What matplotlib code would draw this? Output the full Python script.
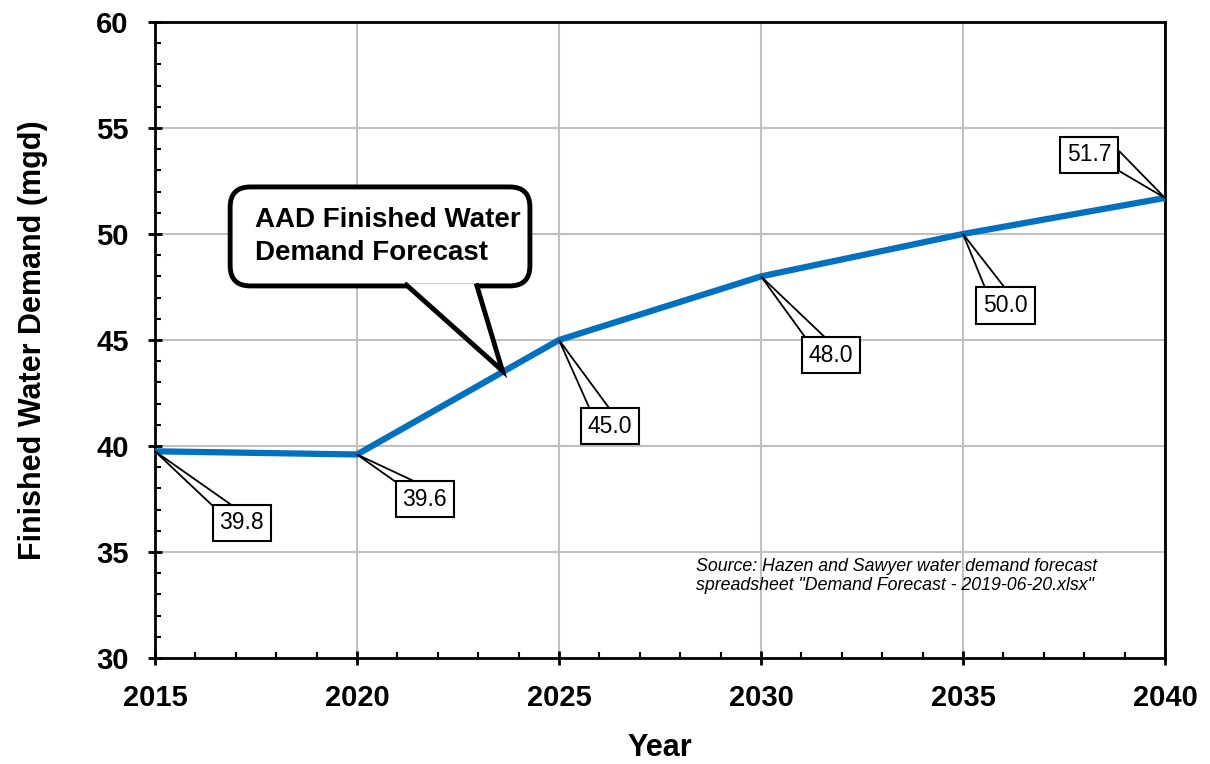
import numpy as np
import matplotlib.pyplot as plt
from matplotlib.patches import Polygon, PathPatch, FancyBboxPatch
from matplotlib.path import Path
from matplotlib.transforms import IdentityTransform
from matplotlib.ticker import MultipleLocator

# forecast values
years = [2015, 2020, 2025, 2030, 2035, 2040]
demand = [39.75, 39.6, 45.0, 48.0, 50.0, 51.7]
labels = ["39.8", "39.6", "45.0", "48.0", "50.0", "51.7"]

# where the data label boxes sit (data coords)
label_pos = [(2017.15, 36.37), (2021.68, 37.5), (2026.26, 40.94),
             (2031.73, 44.29), (2036.05, 46.63), (2038.12, 53.73)]

callout_text = "AAD Finished Water\nDemand Forecast"
callout_tip = (2023.6, 43.55)
callout_box = (2016.86, 47.55, 2024.28, 52.22)   # x0, y0, x1, y1
callout_base = (2021.18, 2022.95)

source_note = ('Source: Hazen and Sawyer water demand forecast\n'
               'spreadsheet "Demand Forecast - 2019-06-20.xlsx"')

plt.rcParams['font.family'] = ['Liberation Sans', 'DejaVu Sans']

fig = plt.figure(figsize=(12.1, 7.64), dpi=100)
ax = fig.add_axes([155/1210, 1 - 658/764, 1010/1210, 636/764])

ax.plot(years, demand, color='#0070C0', lw=4.5, solid_capstyle='butt', zorder=3)

ax.set_xlim(2015, 2040)
ax.set_ylim(30, 60)
ax.xaxis.set_major_locator(MultipleLocator(5))
ax.xaxis.set_minor_locator(MultipleLocator(1))
ax.yaxis.set_major_locator(MultipleLocator(5))
ax.yaxis.set_minor_locator(MultipleLocator(1))
ax.grid(which='major', color='#C0C0C0', lw=1.5, zorder=0)
ax.set_axisbelow(True)

for sp in ax.spines.values():
    sp.set_linewidth(2)
    sp.set_color('black')

ax.tick_params(which='major', direction='inout', length=10, width=2, pad=14,
               labelsize=21)
ax.tick_params(which='minor', direction='in', length=4.5, width=1.5)
for t in ax.get_xticklabels() + ax.get_yticklabels():
    t.set_fontweight('bold')

ax.set_xlabel('Year', fontsize=22, fontweight='bold')
ax.set_ylabel('Finished Water Demand (mgd)', fontsize=22, fontweight='bold')
ax.xaxis.set_label_coords(0.5, -0.118)
ax.yaxis.set_label_coords(-0.106, 0.5)

# data labels with wedge pointers (built in pixel space)
half_w, half_h, base = 30, 17, 20
for x, y, lab, pos in zip(years, demand, labels, label_pos):
    tip = ax.transData.transform((x, y))
    cen = ax.transData.transform(pos)
    d = tip - cen
    tx = half_w / abs(d[0]) if d[0] else np.inf
    ty = half_h / abs(d[1]) if d[1] else np.inf
    e = cen + d * min(tx, ty)
    if tx < ty:
        e[1] = np.clip(e[1], cen[1] - half_h + base / 2 + 1, cen[1] + half_h - base / 2 - 1)
        b1, b2 = e + [0, base / 2], e - [0, base / 2]
    else:
        e[0] = np.clip(e[0], cen[0] - half_w + base / 2 + 1, cen[0] + half_w - base / 2 - 1)
        b1, b2 = e + [base / 2, 0], e - [base / 2, 0]
    ax.add_patch(Polygon([tip, b1, b2], closed=True, fc='white', ec='black',
                         lw=1.3, joinstyle='miter', transform=IdentityTransform(),
                         zorder=4, clip_on=False))
    ax.text(pos[0], pos[1], lab, ha='center', va='center', fontsize=16.5,
            zorder=5, bbox=dict(boxstyle='square,pad=0.3', fc='white',
                                ec='black', lw=1.5))

# big speech-bubble callout
x0, y0, x1, y1 = callout_box
ax.add_patch(FancyBboxPatch((x0, y0), x1 - x0, y1 - y0,
                            boxstyle='round,pad=0,rounding_size=0.5',
                            mutation_aspect=40.4 / 21.2, fc='white', ec='black',
                            lw=3.5, zorder=6))
verts = [(callout_base[0], y0 + 0.12), callout_tip, (callout_base[1], y0 + 0.12)]
ax.add_patch(PathPatch(Path(verts, [Path.MOVETO, Path.LINETO, Path.LINETO]),
                       fc='white', ec='black', lw=3.5, joinstyle='miter',
                       zorder=7))
ax.text(x0 + 0.62, (y0 + y1) / 2 + 0.0, callout_text, ha='left', va='center',
        fontsize=20, fontweight='bold', linespacing=1.35, zorder=8)

ax.text(2028.39, 33.87, source_note, fontsize=12.75, style='italic',
        ha='left', va='center', linespacing=1.15, zorder=4)

fig.savefig('out.png', dpi=100)
